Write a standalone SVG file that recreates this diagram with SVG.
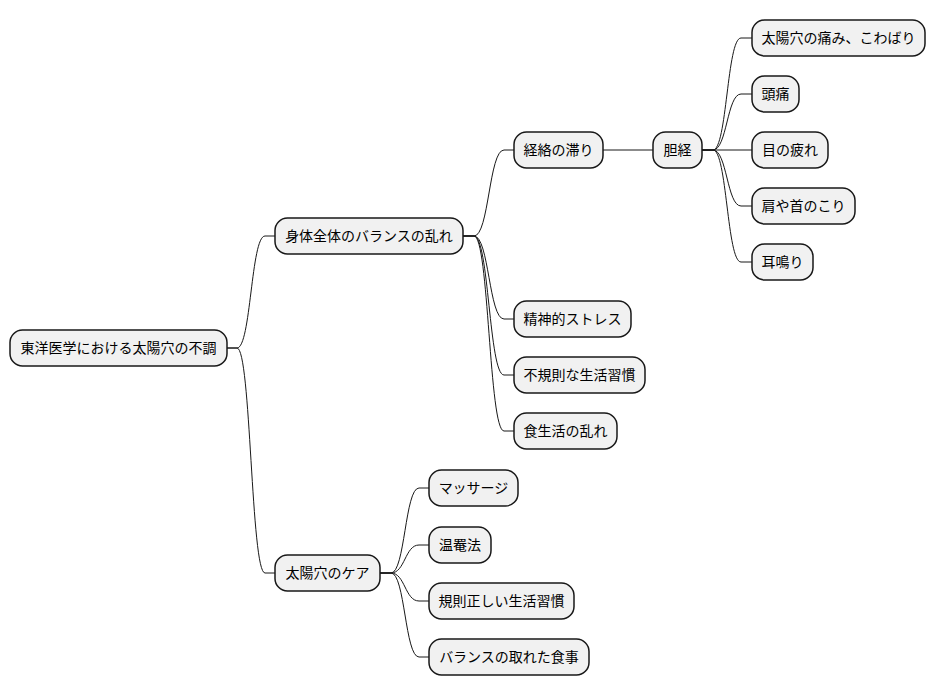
<svg xmlns="http://www.w3.org/2000/svg" width="936" height="696" viewBox="0 0 936 696">
<style>
.n rect{fill:#f1f1f1;stroke:#181818;stroke-width:1.5}
.n text{font-family:"Noto Sans CJK JP","Noto Sans CJK SC",sans-serif;font-size:14px;fill:#000;text-anchor:middle}
#links path{fill:none;stroke:#181818;stroke-width:1}
</style>
<rect width="936" height="696" fill="#fff"/>
<g id="links">
<path d="M227,348 H237 C251,348 251,236 265,236 H275"/>
<path d="M227,348 H237 C251,348 251,573 265,573 H275"/>
<path d="M463,236 H474 C489,236 489,150 504,150 H514"/>
<path d="M463,236 H474 C489,236 489,319 504,319 H514"/>
<path d="M463,236 H474 C489,236 489,375 504,375 H514"/>
<path d="M463,236 H474 C489,236 489,431 504,431 H514"/>
<path d="M603,150 H653"/>
<path d="M702,150 H713 C727,150 727,38 741,38 H752"/>
<path d="M702,150 H713 C727,150 727,94 741,94 H752"/>
<path d="M702,150 H752"/>
<path d="M702,150 H713 C727,150 727,206 741,206 H752"/>
<path d="M702,150 H713 C727,150 727,262 741,262 H752"/>
<path d="M380,573 H391 C405,573 405,488 419,488 H429"/>
<path d="M380,573 H391 C405,573 405,545 419,545 H429"/>
<path d="M380,573 H391 C405,573 405,601 419,601 H429"/>
<path d="M380,573 H391 C405,573 405,657 419,657 H429"/>
</g>
<g id="root" class="n"><rect x="10" y="330" width="217" height="36" rx="12.5"/><text x="118.5" y="353">東洋医学における太陽穴の不調</text></g>
<g id="balance" class="n"><rect x="275" y="218" width="188" height="36" rx="12.5"/><text x="369" y="241">身体全体のバランスの乱れ</text></g>
<g id="care" class="n"><rect x="275" y="555" width="105" height="36" rx="12.5"/><text x="327.5" y="578">太陽穴のケア</text></g>
<g id="keiraku" class="n"><rect x="514" y="132" width="89" height="36" rx="12.5"/><text x="558.5" y="155">経絡の滞り</text></g>
<g id="tankei" class="n"><rect x="653" y="132" width="49" height="36" rx="12.5"/><text x="677.5" y="155">胆経</text></g>
<g id="itami" class="n"><rect x="752" y="20" width="173" height="36" rx="12.5"/><text x="838.5" y="43">太陽穴の痛み、こわばり</text></g>
<g id="zutsu" class="n"><rect x="752" y="76" width="47" height="36" rx="12.5"/><text x="775.5" y="99">頭痛</text></g>
<g id="me" class="n"><rect x="752" y="132" width="76" height="36" rx="12.5"/><text x="790" y="155">目の疲れ</text></g>
<g id="kata" class="n"><rect x="752" y="188" width="103" height="36" rx="12.5"/><text x="803.5" y="211">肩や首のこり</text></g>
<g id="miminari" class="n"><rect x="752" y="244" width="61" height="36" rx="12.5"/><text x="782.5" y="267">耳鳴り</text></g>
<g id="stress" class="n"><rect x="514" y="301" width="117" height="36" rx="12.5"/><text x="572.5" y="324">精神的ストレス</text></g>
<g id="fukisoku" class="n"><rect x="514" y="357" width="131" height="36" rx="12.5"/><text x="579.5" y="380">不規則な生活習慣</text></g>
<g id="shoku" class="n"><rect x="514" y="413" width="103" height="36" rx="12.5"/><text x="565.5" y="436">食生活の乱れ</text></g>
<g id="massage" class="n"><rect x="429" y="470" width="89" height="36" rx="12.5"/><text x="473.5" y="493">マッサージ</text></g>
<g id="onanpo" class="n"><rect x="429" y="527" width="62" height="36" rx="12.5"/><text x="460" y="550">温罨法</text></g>
<g id="kisoku" class="n"><rect x="429" y="583" width="145" height="36" rx="12.5"/><text x="501.5" y="606">規則正しい生活習慣</text></g>
<g id="shokuji" class="n"><rect x="429" y="639" width="160" height="36" rx="12.5"/><text x="509" y="662">バランスの取れた食事</text></g>
</svg>
